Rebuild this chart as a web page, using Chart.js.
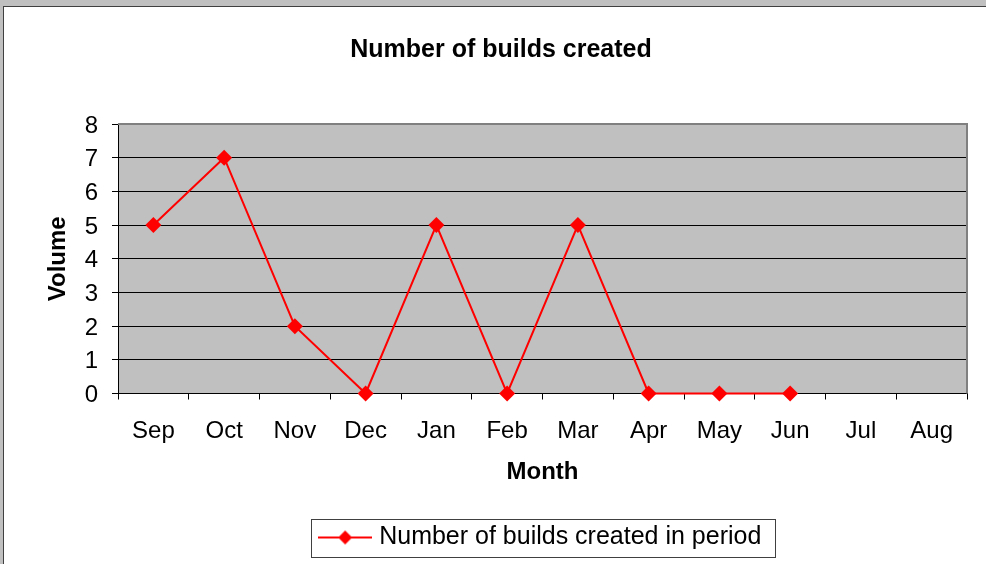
<!DOCTYPE html>
<html>
<head>
<meta charset="utf-8">
<script src="https://cdn.jsdelivr.net/npm/chart.js@4"></script>
<style>
  html, body { margin: 0; padding: 0; background: #fff; }
  #wrap { width: 986px; height: 564px; position: relative; }
</style>
</head>
<body>
<div id="wrap"><canvas id="c" width="986" height="564"></canvas></div>
<script>
// chart values
const months = ['Sep', 'Oct', 'Nov', 'Dec', 'Jan', 'Feb', 'Mar', 'Apr', 'May', 'Jun', 'Jul', 'Aug'];
const buildsCreated = [5, 7, 2, 0, 5, 0, 5, 0, 0, 0, null, null];
const volumeTicks = [0, 1, 2, 3, 4, 5, 6, 7, 8];

const red = '#FF0000';
Chart.defaults.font.family = '"Liberation Sans", Arial, sans-serif';
Chart.defaults.color = '#000';

// line + diamond marker for the legend
const legendMark = document.createElement('canvas');
legendMark.width = 54;
legendMark.height = 16;
(function () {
    const g = legendMark.getContext('2d');
    g.strokeStyle = red;
    g.lineWidth = 2;
    g.beginPath();
    g.moveTo(0, 8);
    g.lineTo(54, 8);
    g.stroke();
    g.fillStyle = red;
    g.beginPath();
    g.moveTo(27, 1); g.lineTo(34, 8); g.lineTo(27, 15); g.lineTo(20, 8);
    g.closePath();
    g.fill();
})();

// window frame, grey plot background and plot border, box round the legend
const frame = {
    id: 'frame',
    beforeDraw(chart) {
        const ctx = chart.ctx;
        const a = chart.chartArea;
        ctx.save();
        ctx.fillStyle = '#c0c0c0';
        ctx.fillRect(0, 0, chart.width, 6);
        ctx.fillRect(0, 0, 3, chart.height);
        ctx.fillStyle = '#404040';
        ctx.fillRect(3, 6, chart.width - 3, 1);
        ctx.fillRect(3, 6, 1, chart.height - 6);
        ctx.fillStyle = '#c0c0c0';
        ctx.fillRect(a.left, a.top, a.right - a.left, a.bottom - a.top);
        ctx.restore();
    },
    beforeDatasetsDraw(chart) {
        const ctx = chart.ctx;
        const a = chart.chartArea;
        ctx.save();
        ctx.strokeStyle = '#808080';
        ctx.lineWidth = 2;
        ctx.beginPath();
        ctx.moveTo(a.left, a.top);
        ctx.lineTo(a.right, a.top);
        ctx.lineTo(a.right, a.bottom);
        ctx.stroke();
        ctx.restore();
    },
    afterDraw(chart) {
        const hit = chart.legend.legendHitBoxes[0];
        if (!hit) return;
        const ctx = chart.ctx;
        const cy = hit.top + hit.height / 2;
        ctx.save();
        ctx.strokeStyle = '#404040';
        ctx.lineWidth = 1;
        ctx.strokeRect(Math.round(hit.left - 13) + 0.5, Math.round(cy - 19) + 0.5,
            Math.round(hit.width + 26), 38);
        ctx.restore();
    }
};

new Chart(document.getElementById('c'), {
    type: 'line',
    data: {
        labels: months,
        datasets: [{
            label: 'Number of builds created in period',
            data: buildsCreated,
            borderColor: red,
            backgroundColor: red,
            borderWidth: 2,
            tension: 0,
            pointStyle: 'rectRot',
            pointRadius: 8,
            pointBorderWidth: 0,
            pointBackgroundColor: red,
            clip: false
        }]
    },
    options: {
        responsive: false,
        animation: false,
        layout: { padding: { left: 16, right: 0, top: 0, bottom: 4 } },
        plugins: {
            title: {
                display: true,
                text: 'Number of builds created',
                font: { size: 25, weight: 'bold' },
                color: '#000',
                padding: { top: 35, bottom: 59 }
            },
            legend: {
                position: 'bottom',
                fullSize: false,
                labels: {
                    font: { size: 25 },
                    color: '#000',
                    padding: 10,
                    usePointStyle: true,
                    pointStyleWidth: 43,
                    generateLabels: chart => chart.data.datasets.map((ds, i) => ({
                        text: ds.label,
                        pointStyle: legendMark,
                        fillStyle: red,
                        strokeStyle: red,
                        lineWidth: 0,
                        hidden: false,
                        datasetIndex: i,
                        fontColor: '#000'
                    }))
                }
            },
            tooltip: { enabled: false }
        },
        scales: {
            x: {
                offset: true,
                grid: { offset: true, drawOnChartArea: false, color: '#000', tickLength: 6 },
                border: { color: '#000', width: 1 },
                ticks: { font: { size: 24 }, color: '#000', padding: 17, maxRotation: 0, autoSkip: false },
                title: { display: true, text: 'Month', font: { size: 24, weight: 'bold' }, color: '#000', padding: { top: 0, bottom: 28 } },
                afterFit: s => { s.height = 121.5; }
            },
            y: {
                min: volumeTicks[0],
                max: volumeTicks[volumeTicks.length - 1],
                afterBuildTicks: s => { s.ticks = volumeTicks.map(v => ({ value: v })); },
                grid: { color: '#000', tickLength: 6 },
                border: { color: '#000', width: 1 },
                ticks: { font: { size: 24 }, color: '#000', padding: 14, labelOffset: 2 },
                title: { display: true, text: 'Volume', font: { size: 24, weight: 'bold' }, color: '#000', padding: { top: 28 } },
                afterFit: s => { s.width = 102; }
            },
            yRight: {
                position: 'right',
                display: true,
                min: 0,
                max: 8,
                ticks: { display: false },
                grid: { display: false },
                border: { display: false },
                afterFit: s => { s.width = 19; }
            }
        }
    },
    plugins: [frame]
});
</script>
</body>
</html>
